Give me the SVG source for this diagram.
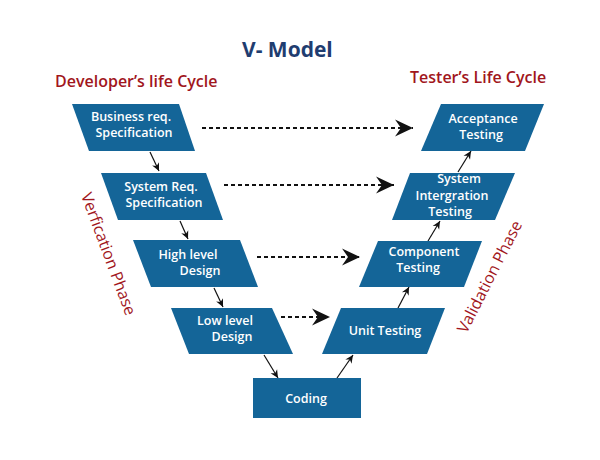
<svg xmlns="http://www.w3.org/2000/svg" width="600" height="460" viewBox="0 0 600 460">
<defs>
<style>
.node{fill:#146598;}
.nt{font-family:"Open Sans","Liberation Sans",sans-serif;font-weight:600;font-size:12.5px;fill:#ffffff;text-anchor:middle;}
.red{font-family:"Open Sans","Liberation Sans",sans-serif;font-weight:600;font-size:16px;fill:#a1161c;}
.phase{font-family:"Open Sans","Liberation Sans",sans-serif;font-weight:400;font-size:16px;fill:#a1161c;text-anchor:middle;}
.dot{stroke:#111;stroke-width:2;stroke-dasharray:4 3;fill:none;}
.sol{stroke:#111;stroke-width:1.2;fill:none;}
</style>
<marker id="big" markerUnits="userSpaceOnUse" markerWidth="20" markerHeight="20" viewBox="-19 -10 20 20" refX="0" refY="0" orient="auto">
<path d="M0,0 L-18,-8.5 L-12,0 L-18,8.5 Z" fill="#111"/>
</marker>
<marker id="small" markerUnits="userSpaceOnUse" markerWidth="10" markerHeight="10" viewBox="-9 -5 10 10" refX="0" refY="0" orient="auto">
<path d="M0,0 L-8,-3.8 L-5.5,0 L-8,3.8 Z" fill="#111"/>
</marker>
</defs>
<rect width="600" height="460" fill="#ffffff"/>
<text x="242" y="57" font-family="'Open Sans','Liberation Sans',sans-serif" font-weight="700" font-size="21" fill="#1f3d70">V- Model</text>
<text class="red" x="55" y="87">Developer’s life Cycle</text>
<text class="red" x="410" y="83">Tester’s Life Cycle</text>
<text class="phase" transform="translate(108,254) rotate(69.5)" y="5">Verfication Phase</text>
<text class="phase" transform="translate(490,277) rotate(-63)" y="5">Validation Phase</text>
<g id="connectors">
<line class="dot" x1="202" y1="128" x2="413" y2="128" marker-end="url(#big)"/>
<line class="dot" x1="224" y1="185" x2="394" y2="185" marker-end="url(#big)"/>
<line class="dot" x1="257" y1="257" x2="360" y2="257" marker-end="url(#big)"/>
<line class="dot" x1="281" y1="317" x2="330" y2="317" marker-end="url(#big)"/>
<line class="sol" x1="150" y1="152" x2="159" y2="171" marker-end="url(#small)"/>
<line class="sol" x1="180" y1="221" x2="188" y2="239" marker-end="url(#small)"/>
<line class="sol" x1="214" y1="288" x2="223" y2="307" marker-end="url(#small)"/>
<line class="sol" x1="264" y1="355" x2="278" y2="378" marker-end="url(#small)"/>
<line class="sol" x1="337" y1="378" x2="353" y2="355" marker-end="url(#small)"/>
<line class="sol" x1="398" y1="308" x2="409" y2="287" marker-end="url(#small)"/>
<line class="sol" x1="428" y1="241" x2="440" y2="221" marker-end="url(#small)"/>
<line class="sol" x1="458" y1="172" x2="471" y2="151" marker-end="url(#small)"/>
</g>
<g id="business">
<polygon class="node" points="72,104 179,104 195,151 89,151"/>
<text class="nt" x="131" y="121">Business req.</text>
<text class="nt" x="134" y="137">Specification</text>
</g>
<g id="system-req">
<polygon class="node" points="101,173 206,173 223,220 118,220"/>
<text class="nt" x="161" y="191">System Req.</text>
<text class="nt" x="164" y="207">Specification</text>
</g>
<g id="high-level">
<polygon class="node" points="133,240 240,240 258,287 151,287"/>
<text class="nt" x="188" y="259">High level</text>
<text class="nt" x="200" y="275">Design</text>
</g>
<g id="low-level">
<polygon class="node" points="171,308 272,308 293,354 189,354"/>
<text class="nt" x="225" y="325">Low level</text>
<text class="nt" x="232" y="341">Design</text>
</g>
<g id="coding">
<rect class="node" x="253" y="378" width="108" height="40"/>
<text class="nt" x="306" y="403">Coding</text>
</g>
<g id="unit-testing">
<polygon class="node" points="341,308 445,308 427,354 322,354"/>
<text class="nt" x="385" y="335">Unit Testing</text>
</g>
<g id="component-testing">
<polygon class="node" points="378,241 482,241 464,287 359,287"/>
<text class="nt" x="424" y="256">Component</text>
<text class="nt" x="418" y="272">Testing</text>
</g>
<g id="system-integration">
<polygon class="node" points="410,173 515,173 495,220 392,220"/>
<text class="nt" x="459" y="183" font-size="10">System</text>
<text class="nt" x="452" y="200">Intergration</text>
<text class="nt" x="450" y="216">Testing</text>
</g>
<g id="acceptance-testing">
<polygon class="node" points="441,104 544,104 525,151 421,151"/>
<text class="nt" x="483" y="123">Acceptance</text>
<text class="nt" x="481" y="139">Testing</text>
</g>
</svg>
